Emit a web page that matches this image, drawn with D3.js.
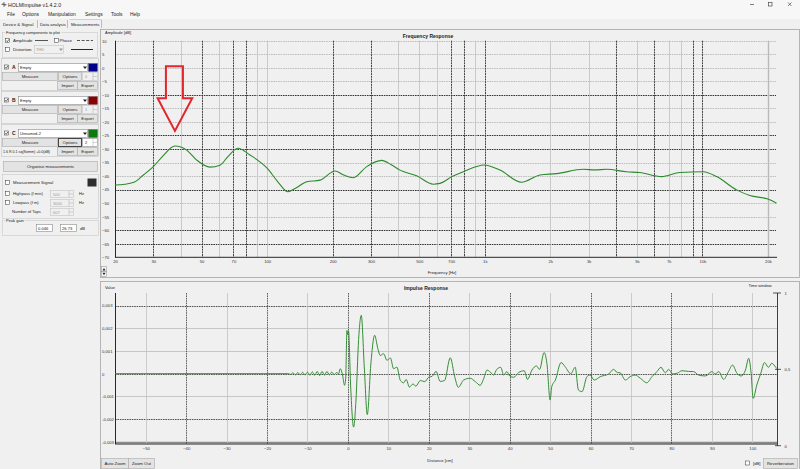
<!DOCTYPE html>
<html>
<head>
<meta charset="utf-8">
<script src="https://cdn.jsdelivr.net/npm/d3@7"></script>
<style>
  body { margin: 0; background: #f0f0f0; overflow: hidden; }
  svg { display: block; font-family: "Liberation Sans", Arial, sans-serif; }
  text { fill: #222; }
  .axis path, .axis line { display: none; }
</style>
</head>
<body>
<svg id="app" width="800" height="469"></svg>
<script>
// ---- data ----
// frequency response, channel C (amplitude in dB)
var freqHz = [20, 22.2, 24.6, 27, 30, 33, 37.7, 42.7, 47.5, 54.6, 60.7, 66, 73.5, 83.4, 100, 112,
  124.7, 135, 152, 175, 205, 225, 248.7, 286.6, 335.8, 370, 407.7, 486, 580, 622, 707, 797, 994,
  1174, 1476, 1792, 2138, 2832, 3206, 3628, 4480, 5160, 6488, 7874, 10076, 11612, 14352, 16520,
  20000, 21900];
var freqDb = [-43.3, -43.0, -42.2, -39.6, -36.5, -32.8, -28.9, -30.4, -34.1, -36.7, -36.0, -32.8,
  -29.7, -32.2, -37.1, -42.1, -45.8, -44.5, -42.1, -41.5, -38.1, -39.6, -40.6, -36.5, -34.2, -35.7,
  -37.8, -39.9, -43.0, -42.7, -40.2, -38.4, -35.9, -37.8, -42.3, -39.6, -39.1, -37.5, -37.7, -37.5,
  -38.4, -38.7, -40.2, -38.7, -38.4, -40.2, -45.1, -47.2, -48.5, -50.0];

var freqTickValues = [20, 30, 50, 70, 100, 200, 300, 500, 700, 1000, 2000, 3000, 5000, 7000, 10000, 20000];
var freqTickLabels = ["20", "30", "50", "70", "100", "200", "300", "500", "700", "1k", "2k", "3k", "5k", "7k", "10k", "20k"];
var dbTicks = [10, 5, 0, -5, -10, -15, -20, -25, -30, -35, -40, -45, -50, -55, -60, -65, -70];

// impulse response (distance in cm, value)
var impulseCm = [-57.6, -14.7, -14.2, -13.6, -13.0, -12.4, -11.8, -11.2, -10.6, -10.0, -9.4, -8.8,
  -8.2, -7.6, -7.0, -6.4, -5.8, -5.2, -4.6, -4.0, -3.4, -2.8, -2.3, -1.9, -1.4, -0.82, -0.55, -0.25,
  -0.05, 0.15, 0.66, 1.4, 1.98, 2.64, 3.3, 4.04, 4.78, 5.7, 6.6, 7.4, 8.0, 8.8, 9.65, 10.5, 11.3,
  12.1, 12.95, 13.8, 14.4, 15.2, 16.1, 16.8, 17.9, 19.0, 20.0, 20.8, 21.8, 22.8, 23.9, 25.3, 26.4,
  27.3, 28.6, 30.2, 31.5, 32.7, 33.5, 34.4, 35.2, 36.0, 36.8, 37.8, 38.5, 39.3, 40.0, 41.0, 42.2,
  43.6, 44.4, 45.5, 46.6, 47.4, 48.5, 49.2, 50.0, 50.4, 51.3, 52.7, 53.7, 55.1, 56.2, 57.0, 57.9,
  59.1, 59.9, 60.9, 62.4, 64.5, 65.7, 66.6, 67.3, 68.6, 69.8, 71.0, 72.3, 73.9, 75.2, 76.4, 77.4,
  78.5, 79.3, 80.3, 81.4, 82.6, 84.2, 85.5, 86.7, 88.4, 90.0, 90.8, 91.7, 92.9, 94.1, 95.1, 96.2,
  97.3, 98.3, 99.1, 99.7, 100.2, 101.1, 102.1, 103.0, 104.0, 104.8, 105.8, 106.1];
var impulseValue = [0, 0, -0.00003, 0.00004, -0.00005, 0.00005, -0.00005, 0.00006, -0.00006, 0.00007,
  -0.00007, 0.00008, -0.00007, 0.0001, -0.00008, 0.0001, -0.00006, 0.0001, -0.00005, 0.00007,
  -0.00004, 0.00005, 0, 0.00022, 0, -0.00051, -0.0002, 0.0019, 0.00172, 0.00188, -0.0005, -0.00235,
  -0.0012, 0.0015, 0.00257, 0.0003, -0.0018, 0.0005, 0.00169, 0.0011, 0.0008, 0.00088, 0.00059,
  0.00069, 0.00022, 0.00029, -0.00029, -0.0004, -0.00025, -0.00059, -0.00045, -0.00055, -0.0003,
  -0.00035, -0.00015, -0.00012, 0.0001, -0.00034, -0.0003, 0.0007, -0.00013, -0.0006, -0.00028,
  -0.0002, -0.00035, -0.00051, -0.00025, 0.00016, 0.00007, -0.00006, 0.00019, 0.00028, -0.00006,
  0.00009, -0.0001, -0.00016, 0.00005, 0.00013, -0.00025, 0.00016, 0.00034, 0.00019, 0.00093,
  0.00046, -0.00116, -0.00057, -0.00028, 0.00049, 0.00031, 0, 0.00028, -0.00072, -0.00079, -0.00013,
  -0.00006, -0.00028, -0.00013, -0.00001, 0.00019, 0.00005, 0.00004, -0.00028, -0.00013, -0.00006,
  -0.0002, -0.0004, -0.00013, 0.00009, 0.00028, 0.00004, 0.00019, -0.00001, 0.00002, 0.00013, 0.0001,
  0.00009, -0.00006, -0.0001, 0.00009, -0.00001, 0.00009, -0.00025, 0.00009, 0.00038, 0.00002,
  -0.0001, 0.00016, 0.00068, 0.00002, -0.00109, -0.0005, 0.00002, 0.00049, 0.00028, 0.00046,
  0.00028, 0.00022];

var distTicks = [-50, -40, -30, -20, -10, 0, 10, 20, 30, 40, 50, 60, 70, 80, 90, 100];
var valueTicks = [0.003, 0.002, 0.001, 0, -0.001, -0.002, -0.003];
var windowTicks = [1, 0.5, 0];

// grid lines that show up dark in the screenshot
var freqGridDark = [30, 50, 70, 80, 200, 300, 700, 800, 1000, 4000, 6000, 9000, 10000];
var dbGridDark = [-10, -25, -30, -45, -60, -65];
var distGridDark = [-40, -20, 0, 20, 40, 60, 80];
var valueGridDark = [0.003, 0, -0.002];

var svg = d3.select("#app");

// ---- little widget helpers for the window chrome ----
function label(g, x, y, s, size, anchor, weight, color) {
  return g.append("text").attr("x", x).attr("y", y).attr("font-size", size || 4.5)
    .attr("text-anchor", anchor || "start").attr("font-weight", weight || "normal")
    .style("fill", color || "#222").text(s);
}
function button(g, x, y, w, h, s, focused) {
  g.append("rect").attr("x", x + 0.5).attr("y", y + 0.5).attr("width", w).attr("height", h)
    .attr("fill", "#e3e3e3").attr("stroke", focused ? "#333" : "#a8a8a8").attr("stroke-width", focused ? 0.9 : 0.6);
  label(g, x + w / 2 + 0.5, y + h / 2 + 2.1, s, 4.3, "middle");
}
function input(g, x, y, w, h, s, disabled) {
  g.append("rect").attr("x", x + 0.5).attr("y", y + 0.5).attr("width", w).attr("height", h)
    .attr("fill", disabled ? "#f0f0f0" : "#fff").attr("stroke", disabled ? "#c4c4c4" : "#8a8a8a").attr("stroke-width", 0.6);
  label(g, x + w - 8, y + h / 2 + 2, s, 4, "end", "normal", disabled ? "#999" : "#222");
}
function spin(g, x, y, w, h, s, disabled) {
  input(g, x, y, w, h, "", disabled);
  label(g, x + 3, y + h / 2 + 2, s, 4, "start", "normal", disabled ? "#999" : "#222");
  g.append("line").attr("x1", x + w - 4).attr("x2", x + w - 4).attr("y1", y + 1).attr("y2", y + h)
    .attr("stroke", "#aaa").attr("stroke-width", 0.5);
  g.append("line").attr("x1", x + w - 4).attr("x2", x + w).attr("y1", y + h / 2 + 0.5).attr("y2", y + h / 2 + 0.5)
    .attr("stroke", "#aaa").attr("stroke-width", 0.5);
}
function checkbox(g, x, y, checked) {
  g.append("rect").attr("x", x + 0.5).attr("y", y + 0.5).attr("width", 4).attr("height", 4)
    .attr("fill", "#fff").attr("stroke", "#333").attr("stroke-width", 0.5);
  if (checked) {
    g.append("path").attr("d", "M" + (x + 1.3) + "," + (y + 2.6) + "L" + (x + 2.3) + "," + (y + 3.7) + "L" + (x + 4) + "," + (y + 1.3))
      .attr("fill", "none").attr("stroke", "#222").attr("stroke-width", 0.7);
  }
}
function combo(g, x, y, w, h, s, disabled) {
  input(g, x, y, w, h, "", disabled);
  label(g, x + 2, y + h / 2 + 2, s, 4, "start", "normal", disabled ? "#999" : "#222");
  g.append("path").attr("d", "M" + (x + w - 4) + "," + (y + 3.5) + "l2,2.4l2,-2.4z").attr("fill", disabled ? "#999" : "#222");
}
function groupBox(g, x, y, w, h, s) {
  g.append("rect").attr("x", x + 0.5).attr("y", y + 0.5).attr("width", w).attr("height", h)
    .attr("fill", "none").attr("stroke", "#c8c8c8").attr("stroke-width", 0.6);
  if (s) {
    var t = label(g, x + 4, y + 2, s, 4);
    var bb = t.node().getBBox();
    g.insert("rect", function() { return t.node(); })
      .attr("x", bb.x - 0.8).attr("y", y - 1).attr("width", bb.width + 1.6).attr("height", 3).attr("fill", "#f0f0f0");
  }
}

// ---- title bar, menu, tabs ----
var bar = svg.append("g");
bar.append("rect").attr("width", 800).attr("height", 19).attr("fill", "#f7f7f7");
bar.append("path").attr("d", "M1.5,4.5h5M4,2v5M2.5,3l3,3").attr("stroke", "#555").attr("stroke-width", 0.8);
label(bar, 8, 7, "HOLMImpulse  v1.4.2.0", 5.2);
bar.append("line").attr("x1", 750).attr("x2", 754).attr("y1", 4.5).attr("y2", 4.5).attr("stroke", "#333").attr("stroke-width", 0.6);
bar.append("rect").attr("x", 768.5).attr("y", 2.5).attr("width", 3.5).attr("height", 3.5).attr("fill", "none").attr("stroke", "#333").attr("stroke-width", 0.6);
bar.append("path").attr("d", "M788,2.5l3.5,3.5M791.5,2.5l-3.5,3.5").attr("stroke", "#333").attr("stroke-width", 0.6);

var menu = ["File", "Options", "Manipulation", "Settings", "Tools", "Help"];
var menuX = [7, 22, 48, 85, 111, 130];
menu.forEach(function(m, i) { label(bar, menuX[i], 16, m, 4.9); });

var tabs = ["Device & Signal", "Data analysis", "Measurements"];
var tabX = [3, 40, 71];
tabs.forEach(function(t, i) { label(svg, tabX[i], 25.8, t, 4.3); });
[37.5, 67.5, 101.5].forEach(function(x) {
  svg.append("line").attr("x1", x).attr("x2", x).attr("y1", 20).attr("y2", 28).attr("stroke", "#9a9a9a").attr("stroke-width", 0.6);
});
svg.append("line").attr("x1", 69.5).attr("x2", 101.5).attr("y1", 19.5).attr("y2", 19.5).attr("stroke", "#bbb").attr("stroke-width", 0.6);

// ---- left control panel ----
var lp = svg.append("g");
groupBox(lp, 2, 32, 95, 25, "Frequency components to plot");
checkbox(lp, 5, 38, true);
label(lp, 13, 42, "Amplitude", 4.4);
lp.append("line").attr("x1", 35).attr("x2", 48).attr("y1", 40.5).attr("y2", 40.5).attr("stroke", "#111").attr("stroke-width", 0.7);
checkbox(lp, 54, 38, false);
label(lp, 59.5, 42, "Phase", 4.4);
lp.append("line").attr("x1", 77).attr("x2", 93).attr("y1", 40.5).attr("y2", 40.5).attr("stroke", "#111").attr("stroke-width", 0.7).attr("stroke-dasharray", "3,1.6");
checkbox(lp, 5, 47, false);
label(lp, 13, 51, "Distortion", 4.4);
combo(lp, 34, 45, 29, 8, "THD", true);
lp.append("line").attr("x1", 71).attr("x2", 93).attr("y1", 49.5).attr("y2", 49.5).attr("stroke", "#111").attr("stroke-width", 0.9);

function measurementPanel(y0, letter, name, color, spinVal, info, focused) {
  var g = lp.append("g");
  g.append("rect").attr("x", 1.5).attr("y", y0 - 1.5).attr("width", 97).attr("height", 32)
    .attr("fill", "none").attr("stroke", "#c4c4c4").attr("stroke-width", 0.6);
  checkbox(g, 4, y0 + 4.5, true);
  label(g, 12, y0 + 8.8, letter, 5, "start", "bold");
  combo(g, 18, y0 + 3, 69, 8, name, false);
  g.append("rect").attr("x", 88.5).attr("y", y0 + 3.5).attr("width", 9).attr("height", 8).attr("fill", color).attr("stroke", "#555").attr("stroke-width", 0.4);
  button(g, 2, y0 + 12, 55, 8, "Measure");
  button(g, 58, y0 + 12, 23, 8, "Options", focused);
  spin(g, 82, y0 + 12, 15, 8, spinVal, !focused);
  if (info) label(g, 3, y0 + 26.5, info, 3.6);
  button(g, 57, y0 + 21, 20, 8, "Import");
  button(g, 77, y0 + 21, 20, 8, "Export");
}
measurementPanel(60, "A", "Empty", "#00008b", "0", null, false);
measurementPanel(93, "B", "Empty", "#8b0000", "1", null, false);
measurementPanel(126, "C", "Unnamed-2", "#0b7a0b", "2", "1.6 R 0.1 sq(Somm) +0.0(dB)", true);

button(lp, 3, 161, 94, 10, "Organise measurements");

groupBox(lp, 2, 174, 96, 44, null);
checkbox(lp, 5, 180, false);
label(lp, 13, 184, "Measurement Signal", 4.4);
lp.append("rect").attr("x", 87.5).attr("y", 178.5).attr("width", 9).attr("height", 8).attr("fill", "#2d2d2d");
checkbox(lp, 5, 191, false);
label(lp, 13, 195, "Highpass (f min)", 4.1);
spin(lp, 50, 190, 23, 7, "500", true);
label(lp, 79, 195, "Hz", 4.1);
checkbox(lp, 5, 200, false);
label(lp, 13, 204, "Lowpass (f m)", 4.1);
spin(lp, 50, 199, 23, 7, "3000", true);
label(lp, 79, 204, "Hz", 4.1);
label(lp, 12, 213, "Number of Taps", 4.1);
spin(lp, 50, 208, 23, 7, "607", true);

groupBox(lp, 2, 220, 96, 15, "Peak gain");
input(lp, 36, 224, 16, 7, "", false);
label(lp, 38, 229.5, "0.046", 4.1);
input(lp, 60, 224, 16, 7, "", false);
label(lp, 62, 229.5, "26.73", 4.1);
label(lp, 80, 229.5, "dB", 4.1);

// ---- panel frames ----
svg.append("rect").attr("x", 100.5).attr("y", 29.5).attr("width", 699).attr("height", 248)
  .attr("fill", "#f0f0f0").attr("stroke", "#a6a6a6").attr("stroke-width", 0.8);
svg.append("rect").attr("x", 100.5).attr("y", 281.5).attr("width", 699).attr("height", 190)
  .attr("fill", "#f0f0f0").attr("stroke", "#a6a6a6").attr("stroke-width", 0.8);

// ================= FREQUENCY RESPONSE =================
var xF = d3.scaleLog().domain([20, 22000]).range([115, 777]);
var yF = d3.scaleLinear().domain([-70, 10]).range([257.3, 40.7]);
var fr = svg.append("g");

label(fr, 105, 33.5, "Amplitude [dB]", 4);
label(fr, 428, 37.5, "Frequency Response", 5, "middle", "bold");

// horizontal dB grid
fr.append("g").selectAll("line")
  .data(dbTicks.filter(function(d) { return d !== -70; }))
  .enter().append("line")
    .attr("x1", xF(20)).attr("x2", 776)
    .attr("y1", function(d) { return Math.round(yF(d)) + 0.5; })
    .attr("y2", function(d) { return Math.round(yF(d)) + 0.5; })
    .attr("stroke", function(d) { return dbGridDark.indexOf(d) >= 0 ? "#1e1e1e" : "#a9a9a9"; })
    .attr("stroke-width", function(d) { return dbGridDark.indexOf(d) >= 0 ? 0.9 : 0.7; })
    .attr("stroke-dasharray", "1.6,0.8");

// vertical frequency grid (1..9 per decade)
fr.append("g").selectAll("line")
  .data(xF.ticks().filter(function(d) { return d > 20; }))
  .enter().append("line")
    .attr("x1", function(d) { return Math.round(xF(d)) + 0.5; })
    .attr("x2", function(d) { return Math.round(xF(d)) + 0.5; })
    .attr("y1", yF(10)).attr("y2", yF(-70))
    .attr("stroke", function(d) { return freqGridDark.indexOf(d) >= 0 ? "#333" : "#b9b9b9"; })
    .attr("stroke-width", function(d) { return d === 20000 ? 1.4 : (freqGridDark.indexOf(d) >= 0 ? 0.9 : 0.7); })
    .attr("stroke-dasharray", function(d) { return freqGridDark.indexOf(d) >= 0 ? "2,0.7" : null; });

// axis lines
fr.append("line").attr("x1", 115.5).attr("x2", 115.5).attr("y1", yF(10)).attr("y2", yF(-70)).attr("stroke", "#111").attr("stroke-width", 0.9);
fr.append("line").attr("x1", 115).attr("x2", 777).attr("y1", yF(-70)).attr("y2", yF(-70)).attr("stroke", "#111").attr("stroke-width", 0.9);

fr.append("g").attr("class", "axis")
  .attr("transform", "translate(0," + yF(-70) + ")")
  .call(d3.axisBottom(xF).tickValues(freqTickValues)
    .tickFormat(function(d, i) { return freqTickLabels[i]; })
    .tickSize(0).tickPadding(3))
  .selectAll("text").attr("font-size", 4.2).style("fill", "#333");

fr.append("g").attr("class", "axis")
  .attr("transform", "translate(102,0)")
  .call(d3.axisRight(yF).tickValues(dbTicks).tickSize(0).tickPadding(0))
  .selectAll("text").attr("font-size", 4.2).style("fill", "#333");

label(fr, 442, 273.5, "Frequency [Hz]", 4.2, "middle");

// small scroll arrows
fr.append("rect").attr("x", 101.5).attr("y", 266.5).attr("width", 5).attr("height", 5).attr("fill", "#f8f8f8").attr("stroke", "#888").attr("stroke-width", 0.5);
fr.append("rect").attr("x", 101.5).attr("y", 271.5).attr("width", 5).attr("height", 5).attr("fill", "#f8f8f8").attr("stroke", "#888").attr("stroke-width", 0.5);
fr.append("path").attr("d", "M102.5,270.5l1.5,-2.5l1.5,2.5z").attr("fill", "#222");
fr.append("path").attr("d", "M102.5,272.8l1.5,2.5l1.5,-2.5z").attr("fill", "#222");

// curve
var freqData = freqHz.map(function(f, i) { return { f: f, db: freqDb[i] }; });
fr.append("path")
  .datum(freqData)
  .attr("fill", "none")
  .attr("stroke", "#2c8a2c")
  .attr("stroke-width", 1.1)
  .attr("d", d3.line()
    .x(function(d) { return xF(d.f); })
    .y(function(d) { return yF(d.db); })
    .curve(d3.curveMonotoneX));

// red arrow annotation pointing at the first peak
var tipX = xF(37.7), tipY = yF(-23.3);
fr.append("path")
  .attr("d", "M" + (tipX - 9) + "," + (tipY - 64.7) + "h17v32h9.3L" + tipX + "," + tipY +
    "L" + (tipX - 17.3) + "," + (tipY - 32.7) + "h8.3z")
  .attr("fill", "none").attr("stroke", "#e3262b").attr("stroke-width", 2).attr("stroke-linejoin", "miter");

// ================= IMPULSE RESPONSE =================
var xI = d3.scaleLinear().domain([-57.6, 106.1]).range([115, 777]);
var yI = d3.scaleLinear().domain([-0.00308, 0.00355]).range([443.7, 293]);
var yW = d3.scaleLinear().domain([0, 1]).range([445.7, 293]);
var ir = svg.append("g");
var comma = function(d) { return String(d).replace(".", ","); };

label(ir, 105, 288.5, "Value", 4);
label(ir, 426, 290, "Impulse Response", 5, "middle", "bold");
label(ir, 760, 286.5, "Time window", 4, "middle");

ir.append("g").selectAll("line")
  .data(valueTicks)
  .enter().append("line")
    .attr("x1", 115).attr("x2", 777)
    .attr("y1", function(d) { return Math.round(yI(d)) + 0.5; })
    .attr("y2", function(d) { return Math.round(yI(d)) + 0.5; })
    .attr("stroke", function(d) { return valueGridDark.indexOf(d) >= 0 ? "#2a2a2a" : (d === -0.003 ? "#8c8c8c" : "#bdbdbd"); })
    .attr("stroke-width", function(d) { return d === -0.003 ? 1.3 : 0.8; })
    .attr("stroke-dasharray", function(d) { return valueGridDark.indexOf(d) >= 0 ? "1.6,0.8" : null; });

ir.append("g").selectAll("line")
  .data(distTicks)
  .enter().append("line")
    .attr("x1", function(d) { return Math.round(xI(d)) + 0.5; })
    .attr("x2", function(d) { return Math.round(xI(d)) + 0.5; })
    .attr("y1", 293).attr("y2", 443.7)
    .attr("stroke", function(d) { return distGridDark.indexOf(d) >= 0 ? "#3a3a3a" : "#c2c2c2"; })
    .attr("stroke-width", 0.8)
    .attr("stroke-dasharray", function(d) { return distGridDark.indexOf(d) >= 0 ? "1.6,0.8" : null; });

ir.append("line").attr("x1", 115.5).attr("x2", 115.5).attr("y1", 293).attr("y2", 444).attr("stroke", "#111").attr("stroke-width", 0.9);
ir.append("line").attr("x1", 115).attr("x2", 777).attr("y1", 444).attr("y2", 444).attr("stroke", "#111").attr("stroke-width", 0.9);
ir.append("line").attr("x1", 777.5).attr("x2", 777.5).attr("y1", yW(1)).attr("y2", yW(0)).attr("stroke", "#111").attr("stroke-width", 0.8);

ir.append("g").attr("class", "axis")
  .attr("transform", "translate(0,444)")
  .call(d3.axisBottom(xI).tickValues(distTicks).tickSize(0).tickPadding(3))
  .selectAll("text").attr("font-size", 4.2).style("fill", "#333");

ir.append("g").attr("class", "axis")
  .attr("transform", "translate(102,0)")
  .call(d3.axisRight(yI).tickValues(valueTicks).tickFormat(comma).tickSize(0).tickPadding(0))
  .selectAll("text").attr("font-size", 4.2).style("fill", "#333");

// time window axis on the right
var wAxis = ir.append("g").attr("class", "axis")
  .attr("transform", "translate(777.5,0)")
  .call(d3.axisRight(yW).tickValues(windowTicks).tickFormat(comma).tickSize(0).tickPadding(7));
wAxis.selectAll("text").attr("font-size", 4.2).style("fill", "#333");
ir.selectAll(".wtick").data(windowTicks).enter().append("line")
  .attr("x1", function(d) { return d === 1 ? 773 : 775; }).attr("x2", 781)
  .attr("y1", function(d) { return yW(d); }).attr("y2", function(d) { return yW(d); })
  .attr("stroke", "#111").attr("stroke-width", 0.7);

label(ir, 440, 462, "Distance [cm]", 4.2, "middle");

ir.append("defs").append("clipPath").attr("id", "irclip")
  .append("rect").attr("x", 115).attr("y", 293).attr("width", 662).attr("height", 151);

var impulseData = impulseCm.map(function(d, i) { return { d: d, v: impulseValue[i] }; });
ir.append("path")
  .datum(impulseData)
  .attr("clip-path", "url(#irclip)")
  .attr("fill", "none")
  .attr("stroke", "#348f34")
  .attr("stroke-width", 1)
  .attr("d", d3.line()
    .x(function(d) { return xI(d.d); })
    .y(function(d) { return yI(d.v); })
    .curve(d3.curveMonotoneX));

// bottom buttons
button(ir, 101, 458, 27, 10, "Auto Zoom");
button(ir, 128, 458, 26, 10, "Zoom Out");
checkbox(ir, 745, 460.5, false);
label(ir, 753, 464.5, "[dB]", 4.2);
button(ir, 763, 458, 34, 10, "Reverberation");
</script>
</body>
</html>
